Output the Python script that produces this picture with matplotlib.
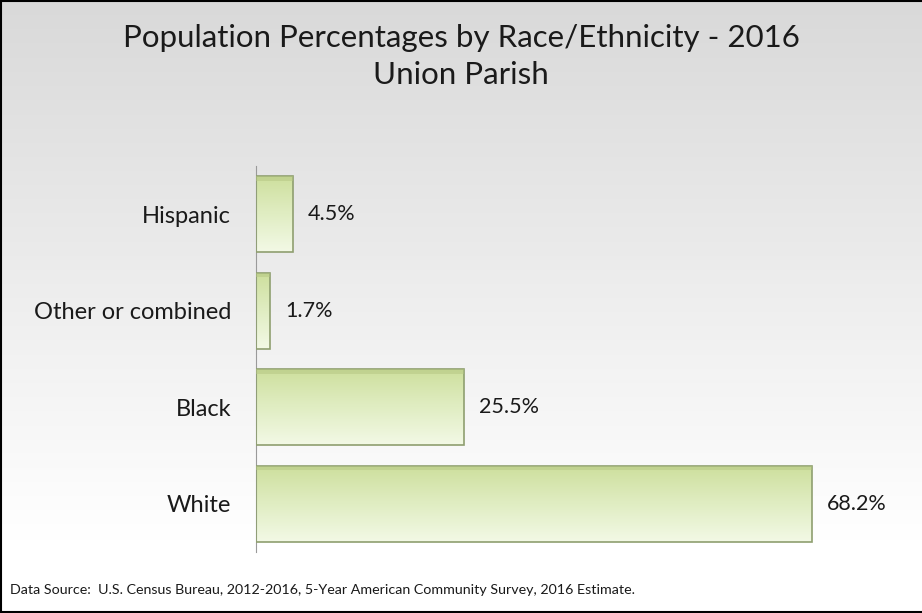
import matplotlib.pyplot as plt
import numpy as np
from matplotlib.colors import LinearSegmentedColormap
from matplotlib.patches import Rectangle

# 인구 비율 데이터 (아래에서 위 순서)
categories = ['White', 'Black', 'Other or combined', 'Hispanic']
percent = [68.2, 25.5, 1.7, 4.5]
value_labels = ['68.2%', '25.5%', '1.7%', '4.5%']

plt.rcParams['font.family'] = ['Lato', 'DejaVu Sans']

fig = plt.figure(figsize=(9.22, 6.13), dpi=100)

# 배경 그라데이션 (위쪽 회색 -> 아래쪽 흰색)
bg = fig.add_axes([0, 0, 1, 1], zorder=-10)
bg_cmap = LinearSegmentedColormap.from_list('bg', [(0, '#ffffff'), (0.12, '#ffffff'),
                                                   (1, '#d9d9d9')])
bg.imshow(np.linspace(0, 1, 256).reshape(-1, 1), aspect='auto', cmap=bg_cmap,
          origin='lower', extent=[0, 1, 0, 1])
bg.set_xlim(0, 1)
bg.set_ylim(0, 1)
bg.axis('off')
# 테두리 (왼쪽, 위, 아래)
bg.plot([0.001, 0.001], [0, 1], color='black', lw=1.5)
bg.plot([0, 1], [0.999, 0.999], color='black', lw=1.5)
bg.plot([0, 1], [0.002, 0.002], color='black', lw=1.5)

ax = fig.add_axes([256 / 922, 1 - 552 / 613, 652 / 922, 386 / 613])
ax.patch.set_alpha(0)
ax.set_xlim(0, 80)
ax.set_ylim(-0.5, 3.5)

bar_cmap = LinearSegmentedColormap.from_list('bar', ['#f3f9e6', '#e0edc2', '#cddf9c'])
grad = np.linspace(0, 1, 256).reshape(-1, 1)
y_pos = np.arange(len(categories))
h = 0.79
for y, v, lab in zip(y_pos, percent, value_labels):
    im = ax.imshow(grad, aspect='auto', cmap=bar_cmap, origin='lower',
                   extent=[0, v, y - h / 2, y + h / 2], zorder=2)
    rect = Rectangle((0, y - h / 2), v, h, facecolor='none',
                     edgecolor='#8f9f70', lw=1.2, zorder=3)
    ax.add_patch(rect)
    im.set_clip_path(rect)
    # 위쪽 경사면
    ax.add_patch(Rectangle((0, y + h / 2 - 0.05), v, 0.05, facecolor='#b4c682',
                           edgecolor='none', alpha=0.5, zorder=3))
    ax.text(v + 1.9, y, lab, va='center', ha='left', fontsize=15.5, color='#1a1a1a')

ax.set_yticks(y_pos)
ax.set_yticklabels(categories, fontsize=17, color='#1a1a1a')
ax.tick_params(axis='y', length=0, pad=18)
ax.set_xticks([])
for s in ['top', 'right', 'bottom']:
    ax.spines[s].set_visible(False)
ax.spines['left'].set_color('#9a9a9a')

fig.text(0.5, 1 - 38 / 613, 'Population Percentages by Race/Ethnicity - 2016',
         ha='center', va='center', fontsize=22.5, color='#1a1a1a')
fig.text(0.5, 1 - 75 / 613, 'Union Parish', ha='center', va='center',
         fontsize=22.5, color='#1a1a1a')
fig.text(10 / 922, 1 - 590 / 613,
         'Data Source:  U.S. Census Bureau, 2012-2016, 5-Year American Community Survey, 2016 Estimate.',
         ha='left', va='center', fontsize=10.3, color='#1a1a1a')

fig.savefig('out.png', dpi=100)
